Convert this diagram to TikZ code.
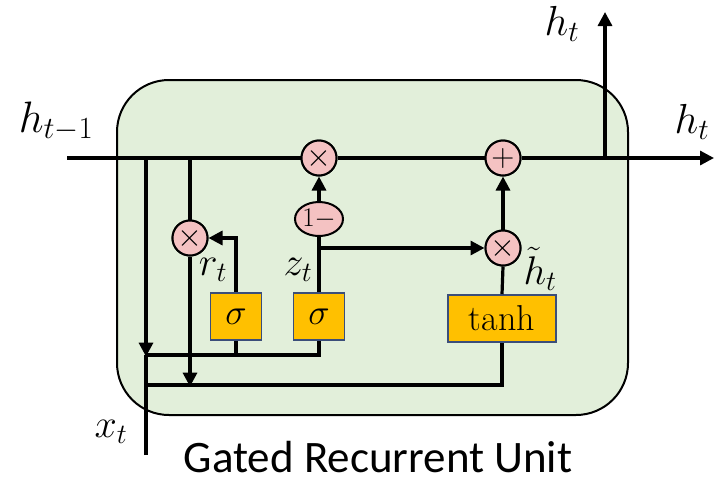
\RequirePackage{fix-cm}
\documentclass[tikz,border=0pt]{standalone}
\usepackage{fontspec}
\newfontfamily\carlito{Carlito}
\usetikzlibrary{arrows.meta,shapes.geometric}
\definecolor{cellgreen}{HTML}{E2EFDA}
\definecolor{oppink}{HTML}{F4C2C2}
\definecolor{gategold}{HTML}{FFC000}
\definecolor{gateedge}{HTML}{3B4E7A}
\tikzset{
  wire/.style={line width=3.2pt},
  arr/.style={wire,-{Triangle[length=14pt,width=14pt]}},
  op/.style={circle,draw,line width=2pt,fill=oppink,minimum size=35pt,inner sep=0pt,font=\fontsize{32}{32}\selectfont},
  gate/.style={rectangle,draw=gateedge,line width=1.6pt,fill=gategold,minimum width=51pt,minimum height=47pt,inner sep=0pt,font=\fontsize{36}{36}\selectfont},
  lbl/.style={font=\fontsize{40}{40}\selectfont,inner sep=0pt,anchor=base},
}
\begin{document}
\begin{tikzpicture}[x=1pt,y=-1pt]
\useasboundingbox (0,0) rectangle (714,480);
\draw[line width=2pt,fill=cellgreen,rounded corners=52pt] (117,80) rectangle (628,415);

\node[op] (mr) at (190,238) {$\times$};
\node[op] (mz) at (319,158) {$\times$};
\node[op] (plus) at (503,158) {$+$};
\node[op] (mh) at (503,248) {$\times$};
\node[ellipse,draw,line width=2pt,fill=oppink,minimum width=48pt,minimum height=34pt,inner sep=0pt,font=\fontsize{27}{27}\selectfont] (om) at (319,219) {$1-$};
\node[gate] (sr) at (236,316.5) {$\sigma$};
\node[gate] (sz) at (319,316.5) {$\sigma$};
\node[gate,minimum width=108pt] (th) at (502,318.5) {tanh};

\coordinate (hin) at (67,158);
\coordinate (hout) at (714,158);
\coordinate (j1) at (146,158);
\coordinate (j2) at (190,158);
\coordinate (jout) at (605,158);
\coordinate (htop) at (605,12);
\coordinate (xin) at (146,455);
\coordinate (xa) at (146,355);
\coordinate (xb) at (146,385);
\coordinate (rbend) at (236,238);
\coordinate (zb) at (319,248);

% main line
\draw[wire] (hin) -- (mz.west);
\draw[wire] (mz.east) -- (plus.west);
\draw[arr] (plus.east) -- (hout);
\draw[arr] (jout) -- (htop);

% input line x_t
\draw[wire] (xin) -- (xa);
\draw[wire] (xa) -- (xb);
\draw[wire] (xa) -| (sz.south);
\draw[wire] (sr.south) -- (sr.south |- xa);
\draw[wire] (xb) -| (th.south);

% h_{t-1} branches
\draw[arr] (j1) -- ([yshift=-1.6pt]xa);
\draw[wire] (j2) -- (mr.north);
\draw[arr] (mr.south) -- ([yshift=-1.6pt]xb -| mr.south);

% reset gate
\draw[arr] (sr.north) -- (rbend) -- (mr.east);

% update gate
\draw[wire] (sz.north) -- (om.south);
\draw[arr] (om.north) -- (mz.south);
\draw[arr] (zb) -- (mh.west);

% candidate
\draw[wire] (th.north) -- (mh.south);
\draw[arr] (mh.north) -- (plus.south);

% redraw ops on top
\node[op] at (mr) {$\times$};
\node[op] at (mz) {$\times$};
\node[op] at (plus) {$+$};
\node[op] at (mh) {$\times$};

% labels
\node[lbl,font=\fontsize{44}{44}\selectfont] (lhin) at (56,132) {$h_{t-1}$};
\node[lbl,font=\fontsize{42}{42}\selectfont] (lhtop) at (562,35) {$h_t$};
\node[lbl,font=\fontsize{42}{42}\selectfont] (lhout) at (692,133) {$h_t$};
\node[lbl] (lr) at (213,275) {$r_t$};
\node[lbl] (lz) at (298,275) {$z_t$};
\node[lbl] (lht) at (540,284) {$\tilde{h}_t$};
\node[lbl] (lx) at (111,437) {$x_t$};
\node[inner sep=0pt,anchor=base,font=\carlito\fontsize{45}{45}\selectfont] (title) at (378,472) {Gated Recurrent Unit};
\end{tikzpicture}
\end{document}
